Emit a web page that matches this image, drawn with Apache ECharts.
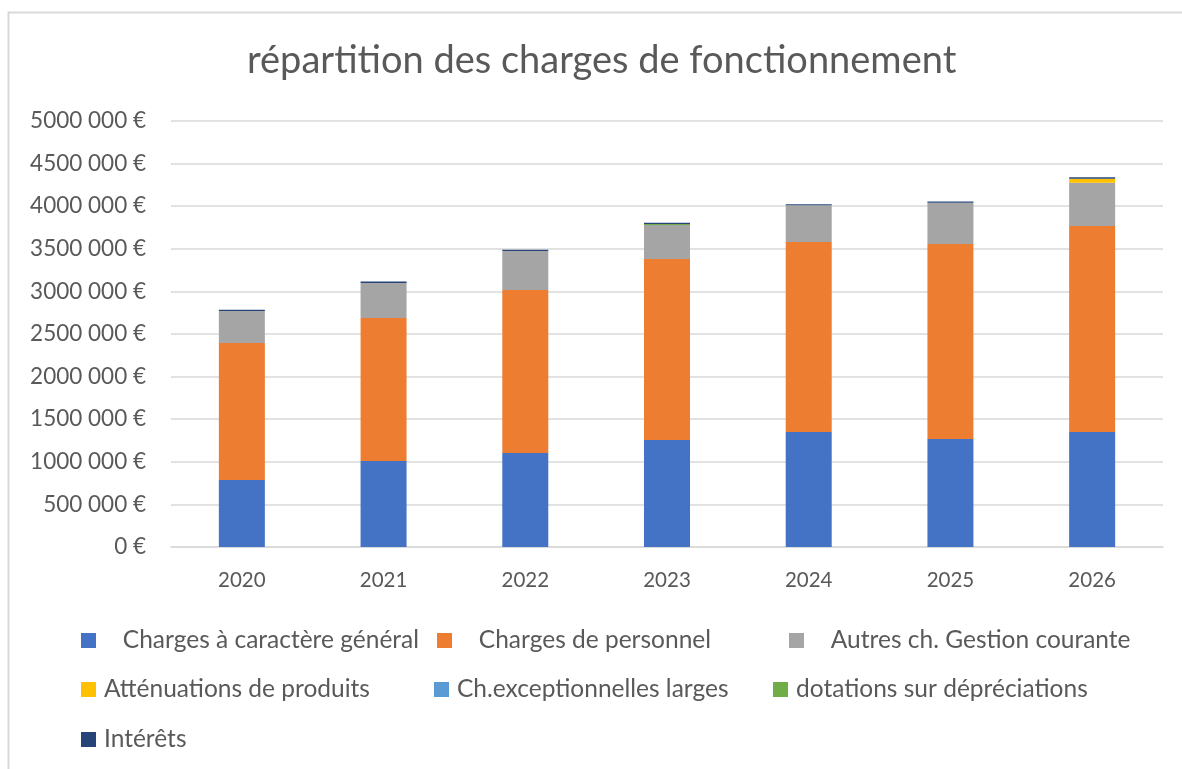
<!DOCTYPE html>
<html>
<head>
<meta charset="utf-8">
<script src="https://cdn.jsdelivr.net/npm/echarts@6/dist/echarts.min.js"></script>
<style>
  html, body { margin: 0; padding: 0; background: #fff; }
  #chart { width: 1182px; height: 769px; }
</style>
</head>
<body>
<div id="chart"></div>
<script>
var years = ['2020', '2021', '2022', '2023', '2024', '2025', '2026'];

var chargesGenerales = [786000, 1009000, 1103000, 1256000, 1350000, 1268000, 1350000];
var chargesPersonnel = [1608000, 1679000, 1913000, 2124000, 2230000, 2288000, 2418000];
var autresGestion = [376000, 412000, 458000, 399000, 430000, 485000, 508000];
var attenuations = [0, 0, 0, 0, 0, 0, 45000];
var exceptionnelles = [0, 0, 0, 0, 0, 0, 0];
var dotations = [0, 0, 0, 12000, 0, 0, 0];
var interets = [15000, 15000, 14000, 15000, 14000, 15000, 18000];

var yTickLabels = ['0 €', '500 000 €', '1000 000 €', '1500 000 €', '2000 000 €', '2500 000 €',
                   '3000 000 €', '3500 000 €', '4000 000 €', '4500 000 €', '5000 000 €'];

var names = [
	'   Charges à caractère général',
	'   Charges de personnel',
	'   Autres ch. Gestion courante',
	'Atténuations de produits',
	'Ch.exceptionnelles larges',
	'dotations sur dépréciations',
	'Intérêts'
];
var colors = ['#4472C4', '#ED7D31', '#A5A5A5', '#FFC000', '#5B9BD5', '#70AD47', '#264478'];
var seriesData = [chargesGenerales, chargesPersonnel, autresGestion, attenuations, exceptionnelles, dotations, interets];

var font = 'Lato, "Open Sans", sans-serif';
var textColor = '#595959';

// legend positions (left, top), one legend per item to mimic the Excel layout
var legendPos = [[81, 628], [437, 628], [789, 628], [81, 677], [434, 677], [773, 677], [81, 727]];

var legends = [];
for (var i = 0; i < names.length; i++) {
	legends.push({
		data: [names[i]],
		left: legendPos[i][0],
		top: legendPos[i][1],
		padding: 0,
		itemWidth: 15,
		itemHeight: 15,
		itemGap: 0,
		icon: 'rect',
		selectedMode: false,
		textStyle: { color: textColor, fontSize: 24.5, fontFamily: font, padding: [0, 0, 0, 3] }
	});
}

var series = [];
for (var i = 0; i < names.length; i++) {
	series.push({
		name: names[i],
		type: 'bar',
		stack: 'total',
		barWidth: 46,
		data: seriesData[i],
		itemStyle: { color: colors[i] }
	});
}

var myChart = echarts.init(document.getElementById('chart'));

var options = {
	animation: false,
	textStyle: { fontFamily: font },
	title: {
		text: 'répartition des charges de fonctionnement',
		left: 242,
		top: 37,
		textStyle: { color: textColor, fontSize: 38, fontWeight: 'normal', fontFamily: font }
	},
	graphic: [{
		type: 'rect',
		shape: { x: 8.5, y: 12.5, width: 1200, height: 800 },
		style: { fill: 'none', stroke: '#D9D9D9', lineWidth: 2 },
		silent: true
	}],
	legend: legends,
	grid: { left: 171, right: 19, top: 121, bottom: 222 },
	xAxis: {
		type: 'category',
		data: years,
		axisLine: { lineStyle: { color: '#D9D9D9', width: 1.5 } },
		axisTick: { show: false },
		axisLabel: { color: textColor, fontSize: 20.5, fontFamily: font, margin: 23 }
	},
	yAxis: {
		type: 'value',
		min: 0,
		max: 5000000,
		interval: 500000,
		axisLine: { show: false },
		axisTick: { show: false },
		splitLine: { lineStyle: { color: '#D9D9D9', width: 1.5 } },
		axisLabel: {
			color: textColor,
			fontSize: 22.5,
			fontFamily: font,
			margin: 25,
			formatter: function (v) { return yTickLabels[Math.round(v / 500000)]; }
		}
	},
	series: series
};

myChart.setOption(options);
</script>
</body>
</html>
